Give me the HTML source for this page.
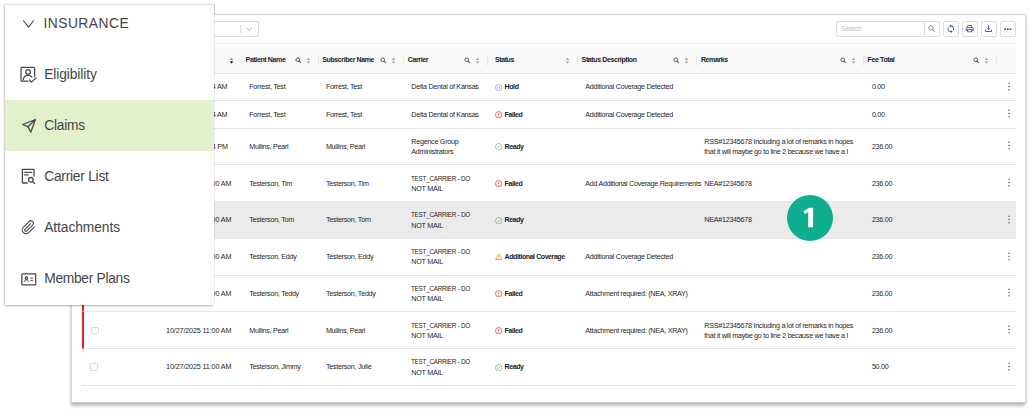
<!DOCTYPE html>
<html><head><meta charset="utf-8"><title>Claims</title>
<style>
*{box-sizing:border-box;margin:0;padding:0}
html,body{width:1030px;height:411px;overflow:hidden;background:#fff}
body{font-family:"Liberation Sans",sans-serif;position:relative;color:#333}
.a{position:absolute}
#main{position:absolute;left:70px;top:14px;width:956px;height:389px;background:#fff;border:1px solid #d0d0d0;border-right-color:#dedede;border-bottom-color:#cdcdcd;border-left:2px solid #d8d8d8;box-shadow:0 4px 3px -1px rgba(0,0,0,.27),1px 0 1px rgba(0,0,0,.10);overflow:hidden}
#inner{position:absolute;left:-72px;top:-15px;width:1030px;height:411px}
.t{position:absolute;margin-left:-0.7px;white-space:nowrap;font-size:7.2px;line-height:10px;letter-spacing:-0.28px;color:#262626}
.b{font-weight:700;font-size:7px;letter-spacing:-0.42px;color:#1c1c1c}
.row{position:absolute;left:82.4px;width:933.4px;border-bottom:1px solid #e3e6e6}
.red{border-left:2px solid #ee1c25}
.hl{background:#ebebeb}
.si{position:absolute;width:7.4px;height:7.4px}
.hi{position:absolute;width:6.6px;height:6.6px;top:57px}
.hs{position:absolute;width:5px;height:7.2px;top:56.8px}
.vd{position:absolute;top:55px;height:11px;width:1px;background:#e9e9e9}
.cb{position:absolute;width:7.6px;height:7.6px;border:1px solid #d9d9d9;border-radius:1.5px;background:#fff}
.kb{position:absolute;width:2px;height:9px}
.btn{position:absolute;top:21px;height:16px;width:16px;border:1px solid #dedede;border-radius:2px;background:#fff}
#menu{position:absolute;left:4px;top:4px;width:209.6px;height:300.6px;background:#fff;border-left:1px solid #d6d6d6;border-top:1px solid #e4e4e4;box-shadow:0 2px 2px -1px rgba(0,0,0,.28),0 0 2px rgba(0,0,0,.14)}
.mt{position:absolute;left:44.2px;white-space:nowrap;font-size:13.8px;line-height:16px;color:#454545}
.mi{position:absolute}
</style></head><body>

<div id="main"><div id="inner">
<div class="a" style="left:150px;top:21px;width:108.5px;height:16px;border:1px solid #dcdfdf;border-radius:2px"></div>
<div class="a" style="left:240.2px;top:25px;width:1px;height:8px;background:#dcdcdc"></div>
<svg class="a" style="left:246px;top:26.5px;width:7px;height:5px" viewBox="0 0 14 10"><path d="M2 2l5 5 5-5" fill="none" stroke="#aaa" stroke-width="2"/></svg>
<div class="a" style="left:836px;top:21px;width:104px;height:16px;border:1px solid #dedede;border-radius:2px"></div>
<div class="a" style="left:924px;top:21px;width:1px;height:16px;background:#dedede"></div>
<div class="t" style="left:841.8px;top:23.8px;color:#bdbdbd;font-size:6.9px">Search</div>
<svg class="a" style="left:928.4px;top:25.3px;width:7.4px;height:7.4px" viewBox="0 0 12 12"><circle cx="4.8" cy="4.8" r="3.5" fill="none" stroke="#7a7a7a" stroke-width="1.4"/><path d="M7.4 7.4l3.4 3.4" stroke="#7a7a7a" stroke-width="1.6"/></svg>
<div class="btn" style="left:943px"></div>
<div class="btn" style="left:962px"></div>
<div class="btn" style="left:981px"></div>
<div class="btn" style="left:1000px"></div>
<svg class="a" style="left:946.2px;top:24.2px;width:9.6px;height:9.6px" viewBox="0 0 24 24"><path fill="#2d4ea2" d="M12 4V1L8 5l4 4V6c3.31 0 6 2.69 6 6 0 1.01-.25 1.97-.7 2.8l1.46 1.46A7.93 7.93 0 0 0 20 12c0-4.42-3.58-8-8-8zm0 14c-3.31 0-6-2.69-6-6 0-1.01.25-1.97.7-2.8L5.240 7.740A7.93 7.93 0 0 0 4 12c0 4.420 3.580 8 8 8v3l4-4-4-4v3z"/></svg>
<svg class="a" style="left:965.3px;top:24.2px;width:9.4px;height:9.4px" viewBox="0 0 24 24"><path fill="#2d4ea2" d="M19 8h-1V3H6v5H5c-1.66 0-3 1.34-3 3v6h4v4h12v-4h4v-6c0-1.66-1.34-3-3-3zM8 5h8v3H8V5zm8 14H8v-4h8v4zm2-4v-2H6v2H4v-4c0-.55.45-1 1-1h14c.55 0 1 .45 1 1v4h-2z"/><circle cx="18" cy="11.500" r="1" fill="#2d4ea2"/></svg>
<svg class="a" style="left:984.2px;top:24.2px;width:9px;height:9px" viewBox="0 0 24 24"><path fill="#2d4ea2" d="M13 3h-2v8H7.500l4.500 5 4.500-5H13V3z"/><path fill="none" stroke="#2d4ea2" stroke-width="2.4" d="M4 15v5h16v-5"/></svg>
<svg class="a" style="left:1004.2px;top:27.8px;width:7.6px;height:2.3px" viewBox="0 0 20 6"><circle cx="3" cy="3" r="2.600" fill="#2d4ea2"/><circle cx="10" cy="3" r="2.600" fill="#2d4ea2"/><circle cx="17" cy="3" r="2.600" fill="#2d4ea2"/></svg>
<div class="a" style="left:82.4px;top:43px;width:933.4px;height:1px;background:#ececec"></div>
<div class="a" style="left:82.4px;top:46.6px;width:933.4px;height:27.2px;background:#f8f8f8;border-bottom:1px solid #e3e6e6"></div>
<div class="vd" style="left:241.0px"></div>
<div class="vd" style="left:317.9px"></div>
<div class="vd" style="left:403.1px"></div>
<div class="vd" style="left:487.0px"></div>
<div class="vd" style="left:577.1px"></div>
<div class="vd" style="left:696.3px"></div>
<div class="vd" style="left:863.1px"></div>
<div class="vd" style="left:995.8px"></div>
<div class="t b" style="left:246.3px;top:55px;letter-spacing:-0.38px">Patient Name</div>
<div class="t b" style="left:322.90000000000003px;top:55px;letter-spacing:-0.38px">Subscriber Name</div>
<div class="t b" style="left:408.5px;top:55px;letter-spacing:-0.38px">Carrier</div>
<div class="t b" style="left:495.6px;top:55px;letter-spacing:-0.38px">Status</div>
<div class="t b" style="left:582.3px;top:55px;letter-spacing:-0.38px">Status Description</div>
<div class="t b" style="left:701.5999999999999px;top:55px;letter-spacing:-0.38px">Remarks</div>
<div class="t b" style="left:868.3px;top:55px;letter-spacing:-0.38px">Fee Total</div>
<svg class="hs" style="left:228.9px" viewBox="0 0 8 12"><path d="M4 0.8L7 5H1z" fill="#9a9a9a"/><path d="M4 11.2L7 7H1z" fill="#222"/></svg>
<svg class="hi" style="left:294.8px" viewBox="0 0 12 12"><circle cx="5" cy="5" r="3.4" fill="none" stroke="#555" stroke-width="1.7"/><path d="M7.6 7.6l3 3" stroke="#555" stroke-width="1.9"/></svg>
<svg class="hs" style="left:305.6px" viewBox="0 0 8 12"><path d="M4 0.8L7 5H1z" fill="#adadad"/><path d="M4 11.2L7 7H1z" fill="#adadad"/></svg>
<svg class="hi" style="left:380.0px" viewBox="0 0 12 12"><circle cx="5" cy="5" r="3.4" fill="none" stroke="#555" stroke-width="1.7"/><path d="M7.6 7.6l3 3" stroke="#555" stroke-width="1.9"/></svg>
<svg class="hs" style="left:390.8px" viewBox="0 0 8 12"><path d="M4 0.8L7 5H1z" fill="#adadad"/><path d="M4 11.2L7 7H1z" fill="#adadad"/></svg>
<svg class="hi" style="left:463.9px" viewBox="0 0 12 12"><circle cx="5" cy="5" r="3.4" fill="none" stroke="#555" stroke-width="1.7"/><path d="M7.6 7.6l3 3" stroke="#555" stroke-width="1.9"/></svg>
<svg class="hs" style="left:474.7px" viewBox="0 0 8 12"><path d="M4 0.8L7 5H1z" fill="#adadad"/><path d="M4 11.2L7 7H1z" fill="#adadad"/></svg>
<svg class="hs" style="left:564.8px" viewBox="0 0 8 12"><path d="M4 0.8L7 5H1z" fill="#adadad"/><path d="M4 11.2L7 7H1z" fill="#adadad"/></svg>
<svg class="hi" style="left:673.2px" viewBox="0 0 12 12"><circle cx="5" cy="5" r="3.4" fill="none" stroke="#555" stroke-width="1.7"/><path d="M7.6 7.6l3 3" stroke="#555" stroke-width="1.9"/></svg>
<svg class="hs" style="left:684.0px" viewBox="0 0 8 12"><path d="M4 0.8L7 5H1z" fill="#adadad"/><path d="M4 11.2L7 7H1z" fill="#adadad"/></svg>
<svg class="hi" style="left:840.0px" viewBox="0 0 12 12"><circle cx="5" cy="5" r="3.4" fill="none" stroke="#555" stroke-width="1.7"/><path d="M7.6 7.6l3 3" stroke="#555" stroke-width="1.9"/></svg>
<svg class="hs" style="left:850.8px" viewBox="0 0 8 12"><path d="M4 0.8L7 5H1z" fill="#adadad"/><path d="M4 11.2L7 7H1z" fill="#adadad"/></svg>
<svg class="hi" style="left:972.7px" viewBox="0 0 12 12"><circle cx="5" cy="5" r="3.4" fill="none" stroke="#555" stroke-width="1.7"/><path d="M7.6 7.6l3 3" stroke="#555" stroke-width="1.9"/></svg>
<svg class="hs" style="left:983.5px" viewBox="0 0 8 12"><path d="M4 0.8L7 5H1z" fill="#adadad"/><path d="M4 11.2L7 7H1z" fill="#adadad"/></svg>
<div class="row" style="top:73.8px;height:27.5px"></div>
<div class="cb" style="left:90.4px;top:83.5px"></div>
<div class="t" style="left:163.0px;top:82px;letter-spacing:-0.14px">10/27/2025 11:04 AM</div>
<div class="t" style="left:249.9px;top:82px">Forrest, Test</div>
<div class="t" style="left:326.6px;top:82px">Forrest, Test</div>
<div class="t" style="left:412px;top:82px">Delta Dental of Kansas</div>
<svg class="si" style="left:494.9px;top:83.7px" viewBox="0 0 14 14"><circle cx="7" cy="7" r="6" fill="none" stroke="#6f9bea" stroke-width="1.3"/><path d="M5.4 4.6v4.8M8.6 4.6v4.8" stroke="#6f9bea" stroke-width="1.3" fill="none"/></svg>
<div class="t b" style="left:505.3px;top:82px">Hold</div>
<div class="t" style="left:586px;top:82px">Additional Coverage Detected</div>
<div class="t" style="left:872.6px;top:82px">0.00</div>
<svg class="kb" style="left:1008.2px;top:81.8px" viewBox="0 0 4 18"><circle cx="2" cy="2.5" r="1.500" fill="#5a5a5a"/><circle cx="2" cy="9" r="1.500" fill="#5a5a5a"/><circle cx="2" cy="15.500" r="1.500" fill="#5a5a5a"/></svg>
<div class="row red" style="top:101.3px;height:27.5px"></div>
<div class="cb" style="left:91.4px;top:111.0px"></div>
<div class="t" style="left:163.0px;top:110px;letter-spacing:-0.14px">10/27/2025 11:04 AM</div>
<div class="t" style="left:249.9px;top:110px">Forrest, Test</div>
<div class="t" style="left:326.6px;top:110px">Forrest, Test</div>
<div class="t" style="left:412px;top:110px">Delta Dental of Kansas</div>
<svg class="si" style="left:494.9px;top:111.2px" viewBox="0 0 14 14"><circle cx="7" cy="7" r="6" fill="none" stroke="#ec3b43" stroke-width="1.4"/><path d="M7 3.6v4.2" stroke="#ec3b43" stroke-width="1.5" fill="none"/><circle cx="7" cy="10" r="0.9" fill="#ec3b43"/></svg>
<div class="t b" style="left:505.3px;top:110px">Failed</div>
<div class="t" style="left:586px;top:110px">Additional Coverage Detected</div>
<div class="t" style="left:872.6px;top:110px">0.00</div>
<svg class="kb" style="left:1008.2px;top:109.4px" viewBox="0 0 4 18"><circle cx="2" cy="2.5" r="1.500" fill="#5a5a5a"/><circle cx="2" cy="9" r="1.500" fill="#5a5a5a"/><circle cx="2" cy="15.500" r="1.500" fill="#5a5a5a"/></svg>
<div class="row" style="top:128.8px;height:36.7px"></div>
<div class="cb" style="left:90.4px;top:143.0px"></div>
<div class="t" style="left:163.0px;top:142px;letter-spacing:-0.14px">10/27/2025 11:04 PM</div>
<div class="t" style="left:249.9px;top:142px">Mullins, Pearl</div>
<div class="t" style="left:326.6px;top:142px">Mullins, Pearl</div>
<div class="t" style="left:412px;top:137px">Regence Group</div>
<div class="t" style="left:412px;top:147px">Administrators</div>
<svg class="si" style="left:494.9px;top:143.2px" viewBox="0 0 14 14"><circle cx="7" cy="7" r="6" fill="none" stroke="#5fb86a" stroke-width="1.3"/><path d="M4.3 7.2l1.9 1.9 3.6-3.8" stroke="#5fb86a" stroke-width="1.3" fill="none"/></svg>
<div class="t b" style="left:505.3px;top:142px">Ready</div>
<div class="t" style="left:705px;top:137px">RSS#12345678 Including a lot of remarks in hopes</div>
<div class="t" style="left:705px;top:147px">that it will maybe go to line 2 because we have a l</div>
<div class="t" style="left:872.6px;top:142px">236.00</div>
<svg class="kb" style="left:1008.2px;top:141.4px" viewBox="0 0 4 18"><circle cx="2" cy="2.5" r="1.500" fill="#5a5a5a"/><circle cx="2" cy="9" r="1.500" fill="#5a5a5a"/><circle cx="2" cy="15.500" r="1.500" fill="#5a5a5a"/></svg>
<div class="row red" style="top:165.5px;height:36.7px"></div>
<div class="cb" style="left:91.4px;top:179.7px"></div>
<div class="t" style="left:166.8px;top:179px;letter-spacing:-0.14px">10/27/2025 11:00 AM</div>
<div class="t" style="left:249.9px;top:179px">Testerson, Tim</div>
<div class="t" style="left:326.6px;top:179px">Testerson, Tim</div>
<div class="t" style="left:412px;top:174px;transform:scaleX(0.878);transform-origin:0 0">TEST_CARRIER - DO</div>
<div class="t" style="left:412px;top:184px">NOT MAIL</div>
<svg class="si" style="left:494.9px;top:179.9px" viewBox="0 0 14 14"><circle cx="7" cy="7" r="6" fill="none" stroke="#ec3b43" stroke-width="1.4"/><path d="M7 3.6v4.2" stroke="#ec3b43" stroke-width="1.5" fill="none"/><circle cx="7" cy="10" r="0.9" fill="#ec3b43"/></svg>
<div class="t b" style="left:505.3px;top:179px">Failed</div>
<div class="t" style="left:586px;top:179px">Add Additional Coverage Requirements</div>
<div class="t" style="left:705px;top:179px">NEA#12345678</div>
<div class="t" style="left:872.6px;top:179px">236.00</div>
<svg class="kb" style="left:1008.2px;top:178.1px" viewBox="0 0 4 18"><circle cx="2" cy="2.5" r="1.500" fill="#5a5a5a"/><circle cx="2" cy="9" r="1.500" fill="#5a5a5a"/><circle cx="2" cy="15.500" r="1.500" fill="#5a5a5a"/></svg>
<div class="row hl" style="top:202.2px;height:36.7px"></div>
<div class="cb" style="left:90.4px;top:216.4px"></div>
<div class="t" style="left:166.8px;top:215px;letter-spacing:-0.14px">10/27/2025 11:00 AM</div>
<div class="t" style="left:249.9px;top:215px">Testerson, Tom</div>
<div class="t" style="left:326.6px;top:215px">Testerson, Tom</div>
<div class="t" style="left:412px;top:210px;transform:scaleX(0.878);transform-origin:0 0">TEST_CARRIER - DO</div>
<div class="t" style="left:412px;top:221px">NOT MAIL</div>
<svg class="si" style="left:494.9px;top:216.7px" viewBox="0 0 14 14"><circle cx="7" cy="7" r="6" fill="none" stroke="#5fb86a" stroke-width="1.3"/><path d="M4.3 7.2l1.9 1.9 3.6-3.8" stroke="#5fb86a" stroke-width="1.3" fill="none"/></svg>
<div class="t b" style="left:505.3px;top:215px">Ready</div>
<div class="t" style="left:705px;top:215px">NEA#12345678</div>
<div class="t" style="left:872.6px;top:215px">236.00</div>
<svg class="kb" style="left:1008.2px;top:214.8px" viewBox="0 0 4 18"><circle cx="2" cy="2.5" r="1.500" fill="#5a5a5a"/><circle cx="2" cy="9" r="1.500" fill="#5a5a5a"/><circle cx="2" cy="15.500" r="1.500" fill="#5a5a5a"/></svg>
<div class="row" style="top:238.9px;height:36.7px"></div>
<div class="cb" style="left:90.4px;top:253.1px"></div>
<div class="t" style="left:166.8px;top:252px;letter-spacing:-0.14px">10/27/2025 11:00 AM</div>
<div class="t" style="left:249.9px;top:252px">Testerson, Eddy</div>
<div class="t" style="left:326.6px;top:252px">Testerson, Eddy</div>
<div class="t" style="left:412px;top:247px;transform:scaleX(0.878);transform-origin:0 0">TEST_CARRIER - DO</div>
<div class="t" style="left:412px;top:257px">NOT MAIL</div>
<svg class="si" style="left:494.9px;top:253.3px" viewBox="0 0 14 14"><path d="M7 1.6L13 12.2H1z" fill="none" stroke="#f0a030" stroke-width="1.8" stroke-linejoin="round"/><path d="M7 5.4v3.4" stroke="#f0a030" stroke-width="1.3"/><circle cx="7" cy="10.4" r="0.8" fill="#f0a030"/></svg>
<div class="t b" style="left:505.3px;top:252px">Additional Coverage</div>
<div class="t" style="left:586px;top:252px">Additional Coverage Detected</div>
<div class="t" style="left:872.6px;top:252px">236.00</div>
<svg class="kb" style="left:1008.2px;top:251.5px" viewBox="0 0 4 18"><circle cx="2" cy="2.5" r="1.500" fill="#5a5a5a"/><circle cx="2" cy="9" r="1.500" fill="#5a5a5a"/><circle cx="2" cy="15.500" r="1.500" fill="#5a5a5a"/></svg>
<div class="row red" style="top:275.6px;height:36.8px"></div>
<div class="cb" style="left:91.4px;top:289.9px"></div>
<div class="t" style="left:166.8px;top:289px;letter-spacing:-0.14px">10/27/2025 11:00 AM</div>
<div class="t" style="left:249.9px;top:289px">Testerson, Teddy</div>
<div class="t" style="left:326.6px;top:289px">Testerson, Teddy</div>
<div class="t" style="left:412px;top:284px;transform:scaleX(0.878);transform-origin:0 0">TEST_CARRIER - DO</div>
<div class="t" style="left:412px;top:294px">NOT MAIL</div>
<svg class="si" style="left:494.9px;top:290.1px" viewBox="0 0 14 14"><circle cx="7" cy="7" r="6" fill="none" stroke="#ec3b43" stroke-width="1.4"/><path d="M7 3.6v4.2" stroke="#ec3b43" stroke-width="1.5" fill="none"/><circle cx="7" cy="10" r="0.9" fill="#ec3b43"/></svg>
<div class="t b" style="left:505.3px;top:289px">Failed</div>
<div class="t" style="left:586px;top:289px">Attachment required: (NEA, XRAY)</div>
<div class="t" style="left:872.6px;top:289px">236.00</div>
<svg class="kb" style="left:1008.2px;top:288.3px" viewBox="0 0 4 18"><circle cx="2" cy="2.5" r="1.500" fill="#5a5a5a"/><circle cx="2" cy="9" r="1.500" fill="#5a5a5a"/><circle cx="2" cy="15.500" r="1.500" fill="#5a5a5a"/></svg>
<div class="row red" style="top:312.4px;height:36.7px"></div>
<div class="cb" style="left:91.4px;top:326.6px"></div>
<div class="t" style="left:166.8px;top:326px;letter-spacing:-0.14px">10/27/2025 11:00 AM</div>
<div class="t" style="left:249.9px;top:326px">Mullins, Pearl</div>
<div class="t" style="left:326.6px;top:326px">Mullins, Pearl</div>
<div class="t" style="left:412px;top:321px;transform:scaleX(0.878);transform-origin:0 0">TEST_CARRIER - DO</div>
<div class="t" style="left:412px;top:331px">NOT MAIL</div>
<svg class="si" style="left:494.9px;top:326.8px" viewBox="0 0 14 14"><circle cx="7" cy="7" r="6" fill="none" stroke="#ec3b43" stroke-width="1.4"/><path d="M7 3.6v4.2" stroke="#ec3b43" stroke-width="1.5" fill="none"/><circle cx="7" cy="10" r="0.9" fill="#ec3b43"/></svg>
<div class="t b" style="left:505.3px;top:326px">Failed</div>
<div class="t" style="left:586px;top:326px">Attachment required: (NEA, XRAY)</div>
<div class="t" style="left:705px;top:321px">RSS#12345678 Including a lot of remarks in hopes</div>
<div class="t" style="left:705px;top:331px">that it will maybe go to line 2 because we have a l</div>
<div class="t" style="left:872.6px;top:326px">236.00</div>
<svg class="kb" style="left:1008.2px;top:325.1px" viewBox="0 0 4 18"><circle cx="2" cy="2.5" r="1.500" fill="#5a5a5a"/><circle cx="2" cy="9" r="1.500" fill="#5a5a5a"/><circle cx="2" cy="15.500" r="1.500" fill="#5a5a5a"/></svg>
<div class="row" style="top:349.1px;height:36.7px"></div>
<div class="cb" style="left:90.4px;top:363.4px"></div>
<div class="t" style="left:166.8px;top:362px;letter-spacing:-0.14px">10/27/2025 11:00 AM</div>
<div class="t" style="left:249.9px;top:362px">Testerson, Jimmy</div>
<div class="t" style="left:326.6px;top:362px">Testerson, Julie</div>
<div class="t" style="left:412px;top:357px;transform:scaleX(0.878);transform-origin:0 0">TEST_CARRIER - DO</div>
<div class="t" style="left:412px;top:368px">NOT MAIL</div>
<svg class="si" style="left:494.9px;top:363.6px" viewBox="0 0 14 14"><circle cx="7" cy="7" r="6" fill="none" stroke="#5fb86a" stroke-width="1.3"/><path d="M4.3 7.2l1.9 1.9 3.6-3.8" stroke="#5fb86a" stroke-width="1.3" fill="none"/></svg>
<div class="t b" style="left:505.3px;top:362px">Ready</div>
<div class="t" style="left:872.6px;top:362px">50.00</div>
<svg class="kb" style="left:1008.2px;top:361.8px" viewBox="0 0 4 18"><circle cx="2" cy="2.5" r="1.500" fill="#5a5a5a"/><circle cx="2" cy="9" r="1.500" fill="#5a5a5a"/><circle cx="2" cy="15.500" r="1.500" fill="#5a5a5a"/></svg>
<div class="row" style="top:385.8px;height:36.7px"></div>
<div class="cb" style="left:90.4px;top:400.0px"></div>
<div class="t" style="left:166.8px;top:399px;letter-spacing:-0.14px">10/27/2025 11:00 AM</div>
<div class="t" style="left:249.9px;top:399px"></div>
<div class="t" style="left:326.6px;top:399px"></div>
<div class="t" style="left:412px;top:394px;transform:scaleX(0.878);transform-origin:0 0">TEST_CARRIER - DO</div>
<div class="t" style="left:412px;top:404px">NOT MAIL</div>
<div class="a" style="left:72px;top:396.4px;width:954px;height:8px;background:#fff"></div>
<div class="a" style="left:787px;top:194.8px;width:46px;height:46px;border-radius:50%;background:#0eae8e"></div>
<svg class="a" style="left:795px;top:200px;width:30px;height:35px" viewBox="0 0 30 35"><path fill="#fff" d="M18.100 7.800H14.300L8.400 11.300 9.600 14l3.600-1.800V27.300h4.900z"/></svg>
</div></div>
<div id="menu"></div>
<div class="a" style="left:213.600px;top:4px;width:1px;height:10.500px;background:#cdcdcd"></div>
<div class="a" style="left:5px;top:100.4px;width:208.6px;height:50.2px;background:#e2f0cc"></div>
<svg class="a" style="left:22px;top:19px;width:13px;height:9.5px" viewBox="0 0 26 19"><path d="M2.500 3L13 16 23.500 3" fill="none" stroke="#444" stroke-width="2.200"/></svg>
<div class="mt" style="left:43.4px;top:16.3px;letter-spacing:0.5px;color:#444">INSURANCE</div>
<div class="mt" style="top:67px;letter-spacing:-0.1px">Eligibility</div>
<div class="mt" style="top:118px;letter-spacing:-0.25px">Claims</div>
<div class="mt" style="top:169px;letter-spacing:-0.25px">Carrier List</div>
<div class="mt" style="top:220px;letter-spacing:-0.08px">Attachments</div>
<div class="mt" style="top:271px;letter-spacing:-0.3px">Member Plans</div>
<svg class="mi" style="left:20px;top:66px;width:18px;height:18px" viewBox="0 0 18 18"><path fill="none" stroke="#4a4a4a" stroke-width="1.300" stroke-linecap="round" stroke-linejoin="round" d="M7.900 15.200H1.800a.8.8 0 0 1-.8-.8V2.200a.8.8 0 0 1 .8-.8h12a.8.8 0 0 1 .8.8v8.400"/><circle fill="none" stroke="#4a4a4a" stroke-width="1.300" stroke-linecap="round" stroke-linejoin="round" cx="8.100" cy="5.900" r="2.300"/><path fill="none" stroke="#4a4a4a" stroke-width="1.300" stroke-linecap="round" stroke-linejoin="round" d="M3.300 13.700c.3-2.700 2.300-4.300 4.800-4.300 1.600 0 2.900.6 3.800 1.700"/><path fill="none" stroke="#4a4a4a" stroke-width="1.300" stroke-linecap="round" stroke-linejoin="round" d="M9.500 14l2.100 2.100 4.400-4.200"/></svg>
<svg class="mi" style="left:21px;top:118.3px;width:16px;height:16px" viewBox="0 0 16 16"><path fill="none" stroke="#4a4a4a" stroke-width="1.300" stroke-linecap="round" stroke-linejoin="round" d="M14.300 1.700L1.700 6.500l5.300 2.300 2.800 5.400z"/><path fill="none" stroke="#4a4a4a" stroke-width="1.300" stroke-linecap="round" stroke-linejoin="round" d="M14.300 1.700L7 8.800"/></svg>
<svg class="mi" style="left:21px;top:168px;width:16px;height:17px" viewBox="0 0 16 17"><path fill="none" stroke="#4a4a4a" stroke-width="1.300" stroke-linecap="round" stroke-linejoin="round" d="M6.300 15H2a.6.6 0 0 1-.6-.6V2a.6.6 0 0 1 .6-.6h10.400a.6.6 0 0 1 .6.6v6"/><path fill="none" stroke="#4a4a4a" stroke-width="1.300" stroke-linecap="round" stroke-linejoin="round" d="M3.800 4.300h6.800M3.800 6.900h3.400"/><circle fill="none" stroke="#4a4a4a" stroke-width="1.300" stroke-linecap="round" stroke-linejoin="round" cx="9.800" cy="11.800" r="2.300"/><path fill="none" stroke="#4a4a4a" stroke-width="1.300" stroke-linecap="round" stroke-linejoin="round" d="M11.600 13.600l2 1.900"/></svg>
<svg class="mi" style="left:21.2px;top:220px;width:15px;height:15px" viewBox="0 0 24 24"><path fill="none" stroke="#4a4a4a" stroke-width="1.900" stroke-linecap="round" stroke-linejoin="round" d="M21.440 11.050l-9.190 9.190a6 6 0 0 1-8.490-8.490l9.190-9.190a4 4 0 0 1 5.660 5.660l-9.200 9.190a2 2 0 0 1-2.830-2.830l8.490-8.480"/></svg>
<svg class="mi" style="left:21.000px;top:273.000px;width:15.600px;height:12.700px" viewBox="0 0 16 13"><rect fill="none" stroke="#4a4a4a" stroke-width="1.300" stroke-linecap="round" stroke-linejoin="round" x="0.900" y="0.900" width="14.200" height="11.200" rx="0.500"/><circle fill="none" stroke="#4a4a4a" stroke-width="1.300" stroke-linecap="round" stroke-linejoin="round" cx="5.600" cy="5.300" r="1.200" stroke-width="1"/><path fill="none" stroke="#4a4a4a" stroke-width="1" d="M3.500 9c.2-1.400 1-2 2.100-2s1.900.6 2.100 2M9.600 5.200h2.800M9.600 7.600h2.800"/></svg>
</body></html>
